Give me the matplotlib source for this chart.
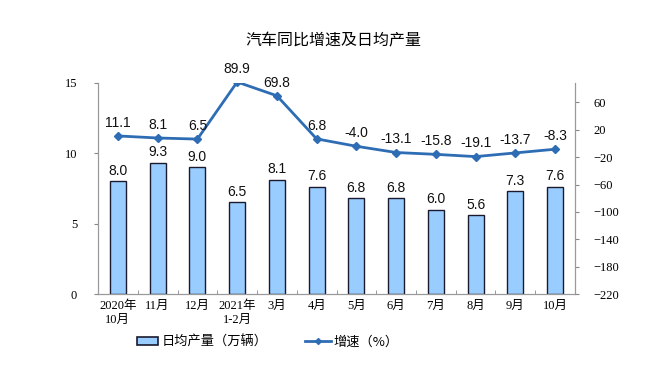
import numpy as np
import matplotlib.pyplot as plt
from matplotlib.lines import Line2D
import matplotlib.patches as mpatches

plt.rcParams['font.family'] = ['Liberation Sans', 'Noto Sans CJK SC']

# data
months = ['2020年\n10月', '11月', '12月', '2021年\n1-2月', '3月', '4月', '5月',
          '6月', '7月', '8月', '9月', '10月']
daily_output = [8.0, 9.3, 9.0, 6.5, 8.1, 7.6, 6.8, 6.8, 6.0, 5.6, 7.3, 7.6]
growth = [11.1, 8.1, 6.5, 89.9, 69.8, 6.8, -4.0, -13.1, -15.8, -19.1, -13.7, -8.3]

bar_color = '#99CCFF'
line_color = '#2E6DB4'
serif = ['Liberation Serif', 'Noto Sans CJK SC']

fig = plt.figure(figsize=(6.67, 3.79), dpi=100)
ax = fig.add_axes([0.147, 0.224, 0.715, 0.558])
x = np.arange(len(months))

ax.bar(x, daily_output, width=0.4, color=bar_color, edgecolor='#1a1a2e', linewidth=1.0, zorder=2)
for xi, v in zip(x, daily_output):
    ax.text(xi, v + 0.25, f'{v:.1f}', ha='center', va='bottom', fontsize=10, color='#111111')

ax.set_xlim(-0.5, len(months) - 0.5)
ax.set_ylim(0, 15)
ax.set_yticks([0, 5, 10, 15])
ax.set_xticks(x)
ax.set_xticklabels(months, fontsize=9, family=serif, linespacing=1.25)
ax.set_xticks(np.arange(-0.5, len(months), 1), minor=True)
ax.tick_params(axis='x', which='major', length=0, pad=4)
ax.tick_params(axis='x', which='minor', length=3, color='#888888', direction='in')
ax.tick_params(axis='y', length=3, color='#888888', labelsize=9, pad=12)
for lab in ax.get_yticklabels():
    lab.set_family(serif)
ax.spines['top'].set_visible(False)
for s in ['left', 'bottom', 'right']:
    ax.spines[s].set_color('#999999')

ax2 = ax.twinx()
ax2.plot(x, growth, color=line_color, linewidth=2.0, marker='D', markersize=4, zorder=3)
for xi, v in zip(x, growth):
    ax2.text(xi, v + 9, f'{v:.1f}', ha='center', va='bottom', fontsize=10, color='#111111')
ax2.set_ylim(-220, 89)
ax2.set_yticks(np.arange(-220, 61, 40))
ax2.tick_params(axis='y', length=3, color='#888888', labelsize=9, pad=10)
for lab in ax2.get_yticklabels():
    lab.set_family(serif)
ax2.spines['top'].set_visible(False)
for s in ['left', 'bottom', 'right']:
    ax2.spines[s].set_color('#999999')

fig.text(0.5, 0.893, '汽车同比增速及日均产量', ha='center', va='center', fontsize=11.5,
         family=['Noto Sans CJK SC'])

legend_font = {'family': ['Noto Sans CJK SC'], 'size': 9.5}
bar_handle = mpatches.Patch(facecolor=bar_color, edgecolor='#1a1a2e', linewidth=1.2, label='日均产量（万辆）')
line_handle = Line2D([0], [0], color=line_color, linewidth=2.0, marker='D', markersize=3, label='增速（%）')
fig.legend(handles=[bar_handle], loc='center left', bbox_to_anchor=(0.205, 0.098), frameon=False,
           handlelength=1.6, handleheight=0.6, handletextpad=0.3, borderpad=0, borderaxespad=0,
           prop=legend_font)
fig.legend(handles=[line_handle], loc='center left', bbox_to_anchor=(0.457, 0.098), frameon=False,
           handlelength=2.0, handletextpad=0.2, borderpad=0, borderaxespad=0,
           prop=legend_font)

fig.savefig('out.png', dpi=100)
